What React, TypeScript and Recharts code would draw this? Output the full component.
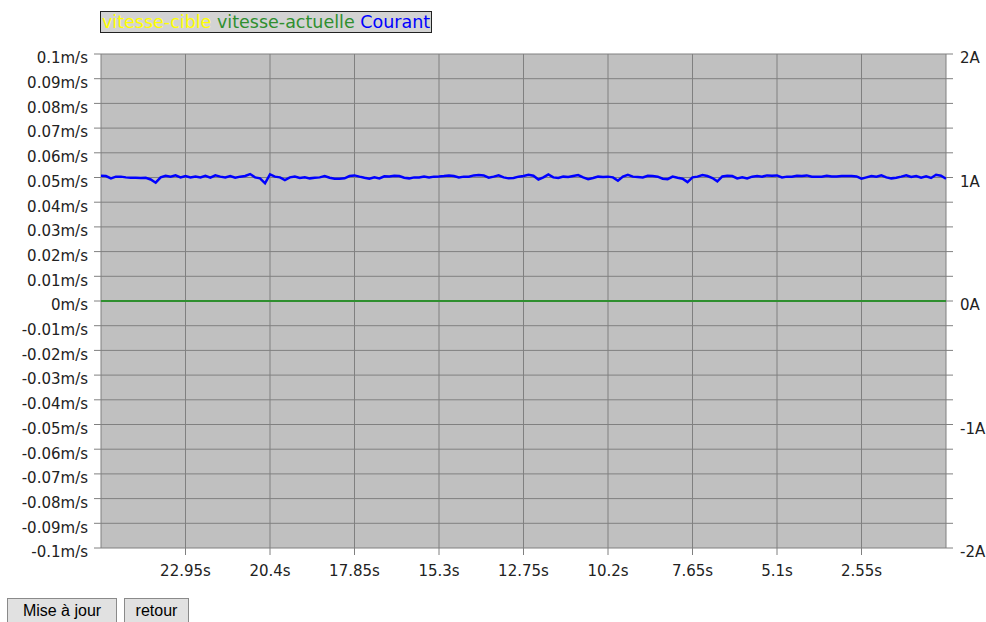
import { CartesianGrid, Line, LineChart, XAxis, YAxis } from "recharts"

// Courant (A), one sample every 0.15 s, oldest (25.5 s ago) first
const courant = [
  1.014, 1.012, 0.993, 1.007, 1.007, 1.001, 0.998, 0.998, 0.996, 0.998,
  0.984, 0.958, 1.001, 1.014, 1.007, 1.017, 1.001, 1.012, 1.001, 1.007,
  1.001, 1.014, 0.998, 1.017, 1.007, 1.001, 1.012, 0.998, 1.007, 1.012,
  1.028, 1.001, 0.993, 0.953, 1.025, 1.007, 1.001, 0.979, 1.001, 1.007,
  0.996, 1.001, 0.993, 0.998, 1.001, 1.012, 0.998, 0.99, 0.99, 0.993,
  1.012, 1.017, 1.007, 0.998, 0.99, 1.001, 0.993, 1.01, 1.009, 1.014,
  1.012, 0.998, 0.993, 1.001, 1.001, 1.007, 1.001, 1.007, 1.009, 1.012,
  1.017, 1.012, 1.001, 1.007, 1.007, 1.017, 1.02, 1.017, 0.998, 1.007,
  1.017, 1.001, 0.993, 0.996, 1.007, 1.012, 1.022, 1.014, 0.984, 1.001,
  1.025, 1.001, 0.996, 1.007, 1.004, 1.012, 1.02, 1.001, 0.987, 0.996,
  1.007, 1.004, 1.007, 1.001, 0.974, 1.007, 1.022, 1.007, 1.004, 1.001,
  1.014, 1.012, 1.007, 0.99, 0.987, 1.007, 0.998, 0.99, 0.963, 1.001,
  1.007, 1.02, 1.012, 0.996, 0.969, 1.009, 1.014, 1.012, 0.993, 1.001,
  0.993, 1.007, 1.012, 1.007, 1.017, 1.014, 1.017, 1.001, 1.007, 1.007,
  1.014, 1.012, 1.017, 1.007, 1.007, 1.007, 1.014, 1.009, 1.009, 1.012,
  1.012, 1.012, 1.009, 0.99, 1.001, 1.012, 1.007, 1.017, 1.001, 0.993,
  0.998, 1.007, 1.017, 1.004, 1.012, 0.998, 1.009, 0.996, 1.022, 1.014,
  0.99,
]

// vitesses (m/s), flat at zero in the capture
const vitesseCible = 0
const vitesseActuelle = 0

const duree = 25.5
const pas = 0.15

const xTicks = [2.55, 5.1, 7.65, 10.2, 12.75, 15.3, 17.85, 20.4, 22.95]
const vTicks = [
  -0.1, -0.09, -0.08, -0.07, -0.06, -0.05, -0.04, -0.03, -0.02, -0.01, 0,
  0.01, 0.02, 0.03, 0.04, 0.05, 0.06, 0.07, 0.08, 0.09, 0.1,
]
const aTicks = [
  -2, -1.8, -1.6, -1.4, -1.2, -1, -0.8, -0.6, -0.4, -0.2, 0,
  0.2, 0.4, 0.6, 0.8, 1, 1.2, 1.4, 1.6, 1.8, 2,
]

const data = courant.map((c, i) => ({
  t: duree - i * pas,
  cible: vitesseCible,
  actuelle: vitesseActuelle,
  courant: c,
}))

const tickFont = { fontFamily: "DejaVu Sans", fontSize: 15, fill: "#222" }

const btn: React.CSSProperties = {
  position: "absolute",
  top: 598,
  height: 26,
  fontFamily: "Liberation Sans",
  fontSize: 16,
  background: "#e1e1e1",
  border: "1px solid #8a8a8a",
  padding: 0,
  color: "#000",
}

export default function App() {
  return (
    <div style={{ position: "absolute", left: 0, top: 0, width: 986, height: 622, background: "#fff", overflow: "hidden" }}>
      <div
        style={{
          position: "absolute",
          left: 100,
          top: 11,
          height: 20,
          padding: "0 1px",
          background: "#d3d3d3",
          border: "1px solid #222",
          fontFamily: "DejaVu Sans",
          fontSize: 17.5,
          lineHeight: "20px",
          whiteSpace: "nowrap",
        }}
      >
        <span style={{ color: "#ffff00" }}>vitesse-cible</span>{" "}
        <span style={{ color: "#2f8f2f" }}>vitesse-actuelle</span>{" "}
        <span style={{ color: "#0000ff" }}>Courant</span>
      </div>
      <div style={{ position: "absolute", left: 0, top: 0 }}>
        <LineChart width={986} height={590} data={data} margin={{ top: 54, right: 0, bottom: 0, left: 0 }}>
          <CartesianGrid yAxisId="v" stroke="#808080" strokeOpacity={1} fill="#c0c0c0" fillOpacity={1} />
          <XAxis
            dataKey="t"
            type="number"
            domain={[0, duree]}
            reversed
            ticks={xTicks}
            tickFormatter={(v) => `${v}s`}
            axisLine={false}
            tickLine={{ stroke: "#808080" }}
            tickSize={7}
            tickMargin={10}
            height={42}
            tick={tickFont}
            interval={0}
          />
          <YAxis
            yAxisId="v"
            orientation="left"
            domain={[-0.1, 0.1]}
            ticks={vTicks}
            tickFormatter={(v) => `${v}m/s`}
            axisLine={false}
            tickLine={{ stroke: "#808080" }}
            tickSize={7}
            tickMargin={6}
            width={101}
            tick={{ ...tickFont, dy: 4 }}
            interval={0}
          />
          <YAxis
            yAxisId="a"
            orientation="right"
            domain={[-2, 2]}
            ticks={aTicks}
            tickFormatter={(v) => (Number.isInteger(v) ? `${v}A` : "")}
            axisLine={false}
            tickLine={{ stroke: "#808080" }}
            tickSize={7}
            tickMargin={7}
            width={40}
            tick={{ ...tickFont, dy: 4 }}
            interval={0}
          />
          <Line yAxisId="v" dataKey="cible" stroke="#ffff00" strokeWidth={2} dot={false} isAnimationActive={false} />
          <Line yAxisId="v" dataKey="actuelle" stroke="#2f8f2f" strokeWidth={2} dot={false} isAnimationActive={false} />
          <Line yAxisId="a" dataKey="courant" stroke="#0000ff" strokeWidth={2.5} dot={false} isAnimationActive={false} />
        </LineChart>
      </div>
      <button style={{ ...btn, left: 7, width: 110 }}>Mise à jour</button>
      <button style={{ ...btn, left: 124, width: 65 }}>retour</button>
    </div>
  )
}
